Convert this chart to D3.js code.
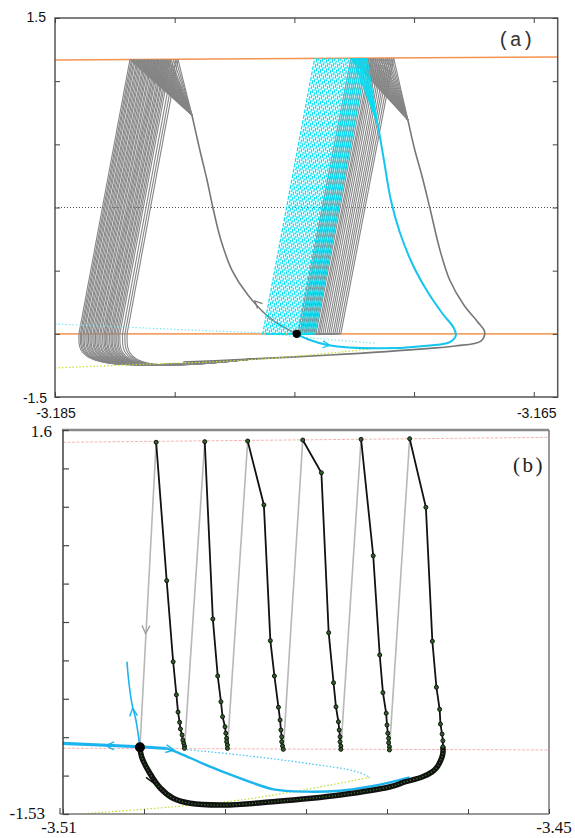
<!DOCTYPE html>
<html lang="en">
<head>
<meta charset="UTF-8">
<title>Trajectories (a) and (b)</title>
<script src="https://cdn.jsdelivr.net/npm/d3@7"></script>
<style>
    body { margin: 0; background: #fff; }
    svg { display: block; }
    .lab-a { font-family: "Liberation Sans", Arial, sans-serif; font-size: 14px; fill: #111; }
    .lab-b { font-family: "Liberation Serif", "Times New Roman", serif; font-size: 17px; fill: #111; }
</style>
</head>
<body>
<script>
    // ---------------- panel (a) ----------------
    var aTicksX = [-3.185, -3.18, -3.175, -3.17, -3.165];
    var aTicksY = [-1.5, -1, -0.5, 0, 0.5, 1, 1.5];
    var aDot = [-3.1749, -1.0];
    var aOrangeLow = [[-3.185, -1.0], [-3.164, -1.0]];
    var aOrangeHigh = [[-3.185, 1.168], [-3.164, 1.191]];
    var aZeroLine = [[-3.185, 0], [-3.164, 0]];
    var aLeftTopY = 1.17;
    var aRightTopY = 1.18;

    // gray band on the left: foot on y=-1, head on the upper orange line
    var aLeftBandBottom = [-3.18400, -3.18394, -3.18389, -3.18383, -3.18378, -3.18371, -3.18366, -3.18360, -3.18354, -3.18349, -3.18342, -3.18337, -3.18331, -3.18325, -3.18320, -3.18313, -3.18308, -3.18301, -3.18295, -3.18290, -3.18284, -3.18279, -3.18272, -3.18266, -3.18261, -3.18254, -3.18249, -3.18242, -3.18236, -3.18229, -3.18218, -3.18208, -3.18199];
    var aLeftBandTop = [-3.18187, -3.18181, -3.18176, -3.18170, -3.18165, -3.18158, -3.18153, -3.18147, -3.18141, -3.18136, -3.18129, -3.18124, -3.18118, -3.18112, -3.18107, -3.18100, -3.18095, -3.18088, -3.18082, -3.18077, -3.18071, -3.18066, -3.18059, -3.18053, -3.18048, -3.18041, -3.18036, -3.18029, -3.18023, -3.18016, -3.18005, -3.17995, -3.17986];
    var aLeftMerge = [-3.17928, 0.732];
    var aHookFloor = -1.30;
    var aHookMerge = [-3.17657, -1.197];
    var aLeftCurve = [[-3.17928, 0.732], [-3.17895, 0.455], [-3.17865, 0.218], [-3.17840, -0.004], [-3.17807, -0.257], [-3.17761, -0.495], [-3.17694, -0.693], [-3.17602, -0.875], [-3.17492, -1.0]];

    // gray band on the right
    var aRightBandBottom = [-3.17485, -3.17477, -3.17469, -3.17460, -3.17452, -3.17444, -3.17435, -3.17427, -3.17419, -3.17410, -3.17402, -3.17396, -3.17389, -3.17381, -3.17373, -3.17364, -3.17356, -3.17348, -3.17339, -3.17331, -3.17323, -3.17314, -3.17306];
    var aRightBandTop = [-3.17264, -3.17256, -3.17248, -3.17239, -3.17231, -3.17223, -3.17214, -3.17206, -3.17198, -3.17189, -3.17181, -3.17175, -3.17168, -3.17160, -3.17152, -3.17143, -3.17135, -3.17127, -3.17118, -3.17110, -3.17102, -3.17093, -3.17085];
    var aRightMerge = [-3.17026, 0.693];
    var aRightCurve = [[-3.17026, 0.693], [-3.16997, 0.455], [-3.16968, 0.257], [-3.16934, -0.004], [-3.16892, -0.336], [-3.16851, -0.574], [-3.16792, -0.772], [-3.16734, -0.906], [-3.16705, -0.985], [-3.16721, -1.057], [-3.16830, -1.096], [-3.16934, -1.115], [-3.17352, -1.168], [-3.17769, -1.207], [-3.17964, -1.223]];

    // cyan band (dashed on the left, solid on the right) and cyan orbit
    var aCyanBandBottom = [-3.17632, -3.17623, -3.17615, -3.17606, -3.17598, -3.17590, -3.17581, -3.17573, -3.17565, -3.17556, -3.17548, -3.17540, -3.17531, -3.17523, -3.17515, -3.17506, -3.17498, -3.17490, -3.17481, -3.17473, -3.17465, -3.17456, -3.17448, -3.17440, -3.17431, -3.17423, -3.17414];
    var aCyanBandTop = [-3.17415, -3.17406, -3.17398, -3.17389, -3.17381, -3.17373, -3.17364, -3.17356, -3.17348, -3.17339, -3.17331, -3.17323, -3.17314, -3.17306, -3.17298, -3.17289, -3.17281, -3.17273, -3.17264, -3.17256, -3.17248, -3.17239, -3.17231, -3.17223, -3.17214, -3.17206, -3.17197];
    var aCyanSolidFrom = 19;
    var aCyanMerge = [-3.17151, 0.653];
    var aCyanCurve = [[-3.17151, 0.653], [-3.17126, 0.376], [-3.17097, 0.059], [-3.17060, -0.194], [-3.17005, -0.455], [-3.16943, -0.669], [-3.16880, -0.843], [-3.16834, -0.954], [-3.16826, -1.017], [-3.16851, -1.065], [-3.16934, -1.092], [-3.17157, -1.115], [-3.17362, -1.088], [-3.17435, -1.049], [-3.17492, -1.0]];

    var aCyanDotted = [[-3.185, -0.922], [-3.17769, -0.983], [-3.17632, -0.993], [-3.17491, -1.023], [-3.17157, -1.075]];
    var aYellowDotted = [[-3.185, -1.270], [-3.18103, -1.239], [-3.17769, -1.215], [-3.17477, -1.175], [-3.17157, -1.115]];

    var aArrows = [
        {tip: [-3.17665, -0.740], from: [-3.17627, -0.811], color: '#7a7a7a'},
        {tip: [-3.17352, -1.090], from: [-3.17394, -1.080], color: '#12c8ee'}
    ];

    // ---------------- panel (b) ----------------
    var bTicksX = [-3.51, -3.50, -3.49, -3.48, -3.47, -3.46, -3.45];
    var bTicksY = [-1.53, -1.217, -0.904, -0.591, -0.278, 0.035, 0.348, 0.661, 0.974, 1.287, 1.6];
    var bDot = [-3.5005, -0.986];
    var bPinkHigh = [[-3.51, 1.500], [-3.45, 1.540]];
    var bPinkLow = [[-3.51, -0.994], [-3.45, -1.008]];

    var bTooth1 = [[-3.4985, 1.500], [-3.4972, 0.372], [-3.4964, -0.289], [-3.4960, -0.558], [-3.4958, -0.699], [-3.4956, -0.783], [-3.4955, -0.837], [-3.4953, -0.886], [-3.4952, -0.927], [-3.4951, -0.954], [-3.4950, -0.976], [-3.4950, -0.995]];
    var bTooth2 = [[-3.4925, 1.505], [-3.4915, 0.059], [-3.4909, -0.405], [-3.4905, -0.615], [-3.4903, -0.737], [-3.4900, -0.819], [-3.4899, -0.872], [-3.4898, -0.913], [-3.4898, -0.941], [-3.4897, -0.968], [-3.4897, -0.995]];
    var bTooth3 = [[-3.4872, 1.510], [-3.4852, 0.989], [-3.4844, -0.117], [-3.4839, -0.405], [-3.4834, -0.660], [-3.4832, -0.764], [-3.4831, -0.845], [-3.4830, -0.900], [-3.4830, -0.941], [-3.4829, -0.976], [-3.4828, -1.003]];
    var bTooth4 = [[-3.4804, 1.518], [-3.4781, 1.252], [-3.4772, -0.052], [-3.4766, -0.460], [-3.4763, -0.656], [-3.4760, -0.778], [-3.4759, -0.845], [-3.4758, -0.900], [-3.4758, -0.941], [-3.4757, -0.976], [-3.4757, -1.003]];
    var bTooth5 = [[-3.4732, 1.524], [-3.4717, 0.575], [-3.4709, -0.234], [-3.4705, -0.541], [-3.4701, -0.709], [-3.4700, -0.805], [-3.4699, -0.872], [-3.4698, -0.913], [-3.4698, -0.949], [-3.4697, -0.982], [-3.4697, -1.008]];
    var bTooth6 = [[-3.4672, 1.529], [-3.4652, 0.970], [-3.4644, -0.122], [-3.4639, -0.497], [-3.4635, -0.677], [-3.4634, -0.797], [-3.4632, -0.878], [-3.4631, -0.933], [-3.4631, -0.982]];
    var bLoop = [[-3.4631, -0.982], [-3.4631, -1.033], [-3.4633, -1.082], [-3.4638, -1.145], [-3.4644, -1.185], [-3.4656, -1.226], [-3.4678, -1.269], [-3.4696, -1.308], [-3.4758, -1.375], [-3.4841, -1.430], [-3.4902, -1.457], [-3.4943, -1.443], [-3.4964, -1.402], [-3.4980, -1.318], [-3.4993, -1.196], [-3.5003, -1.063], [-3.5005, -0.986]];

    var bCyanAxis = [[-3.51, -0.954], [-3.5005, -0.982], [-3.4972, -0.996]];
    var bCyanCurve = [[-3.4972, -0.996], [-3.4956, -1.035], [-3.4923, -1.131], [-3.4881, -1.239], [-3.4840, -1.329], [-3.4799, -1.348], [-3.4758, -1.340], [-3.4717, -1.302], [-3.4672, -1.231]];
    var bCyanUp = [[-3.5005, -0.986], [-3.5010, -0.764], [-3.5015, -0.628], [-3.5019, -0.438], [-3.5021, -0.289]];
    var bCyanDotted = [[-3.4951, -1.003], [-3.4881, -1.049], [-3.4799, -1.117], [-3.4737, -1.185], [-3.4721, -1.231]];
    var bYellowDotted = [[-3.4721, -1.231], [-3.4799, -1.329], [-3.4881, -1.416], [-3.4964, -1.471], [-3.5077, -1.530]];

    var bArrows = [
        {tip: [-3.4998, -0.06], from: [-3.4997, 0.10], color: '#a0a0a0'},
        {tip: [-3.49886, -1.275], from: [-3.49963, -1.177], color: '#111'},
        {tip: [-3.5047, -0.972], from: [-3.5032, -0.976], color: '#1ab4ee'},
        {tip: [-3.4963, -1.008], from: [-3.4978, -0.992], color: '#1ab4ee'},
        {tip: [-3.5014, -0.666], from: [-3.5012, -0.780], color: '#1ab4ee'}
    ];

    var svg = d3.select('body').append('svg')
                .attr('width', 575)
                .attr('height', 838);

    function arrow(g, sx, sy, a, len, width) {
        var tx = sx(a.tip[0]), ty = sy(a.tip[1]);
        var fx = sx(a.from[0]), fy = sy(a.from[1]);
        var ang = Math.atan2(ty - fy, tx - fx);
        var w = 0.45;
        var p1 = [tx - len * Math.cos(ang - w), ty - len * Math.sin(ang - w)];
        var p2 = [tx - len * Math.cos(ang + w), ty - len * Math.sin(ang + w)];
        g.append('path')
         .attr('d', 'M' + p1 + 'L' + tx + ',' + ty + 'L' + p2)
         .attr('fill', 'none')
         .attr('stroke', a.color)
         .attr('stroke-width', width);
    }

    // ======== panel (a) ========
    var xA = d3.scaleLinear().domain([-3.185, -3.164]).range([55, 557.7]);
    var yA = d3.scaleLinear().domain([-1.5, 1.5]).range([397, 18]);
    var lineA = d3.line().x(function(d){ return xA(d[0]); }).y(function(d){ return yA(d[1]); });
    var smoothA = d3.line().curve(d3.curveCatmullRom.alpha(0.5)).x(function(d){ return xA(d[0]); }).y(function(d){ return yA(d[1]); });
    var basisA = d3.line().curve(d3.curveBasis).x(function(d){ return xA(d[0]); }).y(function(d){ return yA(d[1]); });

    svg.append('clipPath').attr('id', 'clipA')
       .append('rect').attr('x', 55).attr('y', 18).attr('width', 502.7).attr('height', 379);
    var gA = svg.append('g').attr('clip-path', 'url(#clipA)');

    gA.append('path').attr('d', lineA(aZeroLine))
      .attr('stroke', '#555').attr('stroke-width', 1).attr('stroke-dasharray', '1,2').attr('fill', 'none');
    gA.append('path').attr('d', lineA(aOrangeLow))
      .attr('stroke', '#f5a266').attr('stroke-width', 1.6).attr('fill', 'none');
    gA.append('path').attr('d', lineA(aOrangeHigh))
      .attr('stroke', '#f59250').attr('stroke-width', 1.6).attr('fill', 'none');

    var grayA = gA.append('g').attr('fill', 'none').attr('stroke', '#858585').attr('stroke-width', 1.1);

    // left band: foot -> head, head -> curve, foot -> hook along the bottom
    aLeftBandBottom.forEach(function(xb, i) {
        var xt = aLeftBandTop[i];
        grayA.append('path').attr('d', lineA([[xb, -1.0], [xt, aLeftTopY]]));
        grayA.append('path').attr('d', lineA([[xt, aLeftTopY], aLeftMerge]));
        grayA.append('path').attr('d', basisA([[xb, -1.0], [xb, aHookFloor], aHookMerge]));
    });
    grayA.append('path').attr('d', smoothA(aLeftCurve)).attr('stroke-width', 1.6).attr('stroke', '#777');

    // right band
    aRightBandBottom.forEach(function(xb, i) {
        var xt = aRightBandTop[i];
        grayA.append('path').attr('d', lineA([aDot, [xb, -1.0], [xt, aRightTopY]]));
        grayA.append('path').attr('d', lineA([[xt, aRightTopY], aRightMerge]));
    });
    grayA.append('path').attr('d', smoothA(aRightCurve)).attr('stroke-width', 1.6).attr('stroke', '#777');

    gA.append('path').attr('d', smoothA(aYellowDotted))
      .attr('stroke', '#c4e22c').attr('stroke-width', 1.2).attr('stroke-dasharray', '1.5,2').attr('fill', 'none');
    gA.append('path').attr('d', smoothA(aCyanDotted))
      .attr('stroke', '#7ee8f6').attr('stroke-width', 1.2).attr('stroke-dasharray', '1.5,2').attr('fill', 'none');

    var cyanA = gA.append('g').attr('fill', 'none').attr('stroke', '#08dcf2').attr('stroke-width', 1.2);
    aCyanBandBottom.forEach(function(xb, i) {
        var xt = aCyanBandTop[i];
        var p = cyanA.append('path').attr('d', lineA([aDot, [xb, -1.0], [xt, aRightTopY]]));
        if (i < aCyanSolidFrom) p.attr('stroke-dasharray', '4,1.5');
        else cyanA.append('path').attr('d', lineA([[xt, aRightTopY], aCyanMerge]));
    });
    cyanA.append('path').attr('d', smoothA(aCyanCurve)).attr('stroke', '#14c6ee').attr('stroke-width', 2);

    aArrows.forEach(function(a) { arrow(gA, xA, yA, a, 8, 1.3); });

    gA.append('circle').attr('cx', xA(aDot[0])).attr('cy', yA(aDot[1])).attr('r', 4.2).attr('fill', '#000');

    // frame and ticks
    svg.append('rect').attr('x', 55).attr('y', 18).attr('width', 502.7).attr('height', 379)
       .attr('fill', 'none').attr('stroke', '#555').attr('stroke-width', 1.5);
    var tickA = function(axis, tr) {
        svg.append('g').attr('transform', tr)
           .call(axis.tickSize(-5).tickSizeOuter(0).tickFormat(''))
           .call(function(g){ g.select('.domain').remove(); g.selectAll('line').attr('stroke', '#444'); });
    };
    tickA(d3.axisBottom(xA).tickValues(aTicksX), 'translate(0,397)');
    tickA(d3.axisTop(xA).tickValues(aTicksX), 'translate(0,18)');
    tickA(d3.axisLeft(yA).tickValues(aTicksY), 'translate(55,0)');
    tickA(d3.axisRight(yA).tickValues(aTicksY), 'translate(557.7,0)');

    svg.append('text').attr('class', 'lab-a').attr('text-anchor', 'end')
       .attr('x', xA(-3.185) - 9).attr('y', yA(1.5) + 4).text('1.5');
    svg.append('text').attr('class', 'lab-a').attr('text-anchor', 'end')
       .attr('x', xA(-3.185) - 8).attr('y', yA(-1.5) + 6).text('-1.5');
    svg.append('text').attr('class', 'lab-a').attr('text-anchor', 'middle')
       .attr('x', xA(-3.185) + 1).attr('y', 418).text('-3.185');
    svg.append('text').attr('class', 'lab-a').attr('text-anchor', 'middle')
       .attr('x', xA(-3.165) + 3).attr('y', 418).text('-3.165');
    svg.append('text').attr('x', xA(-3.164) - 60).attr('y', yA(1.5) + 28)
       .style('font-family', '"Liberation Mono", "Courier New", monospace')
       .style('font-size', '20px').style('fill', '#333').text('(a)');

    // ======== panel (b) ========
    var xB = d3.scaleLinear().domain([-3.51, -3.45]).range([63, 549]);
    var yB = d3.scaleLinear().domain([-1.53, 1.6]).range([814, 430]);
    var lineB = d3.line().x(function(d){ return xB(d[0]); }).y(function(d){ return yB(d[1]); });
    var smoothB = d3.line().curve(d3.curveCatmullRom.alpha(0.5)).x(function(d){ return xB(d[0]); }).y(function(d){ return yB(d[1]); });

    svg.append('clipPath').attr('id', 'clipB')
       .append('rect').attr('x', 63).attr('y', 430).attr('width', 486).attr('height', 384);
    var gB = svg.append('g').attr('clip-path', 'url(#clipB)');

    [bPinkHigh, bPinkLow].forEach(function(p) {
        gB.append('path').attr('d', lineB(p)).attr('fill', 'none')
          .attr('stroke', '#f6b4b4').attr('stroke-width', 1).attr('stroke-dasharray', '3,1.5');
    });

    gB.append('path').attr('d', smoothB(bYellowDotted)).attr('fill', 'none')
      .attr('stroke', '#b8e02a').attr('stroke-width', 1.2).attr('stroke-dasharray', '1.5,2');
    gB.append('path').attr('d', smoothB(bCyanDotted)).attr('fill', 'none')
      .attr('stroke', '#3cc4f2').attr('stroke-width', 1.2).attr('stroke-dasharray', '1.5,2');

    var teeth = [bTooth1, bTooth2, bTooth3, bTooth4, bTooth5, bTooth6];

    // light gray jumps: from the end of one tooth to the head of the next
    teeth.forEach(function(t, i) {
        var start = i === 0 ? bDot : teeth[i - 1][teeth[i - 1].length - 1];
        gB.append('path').attr('d', lineB([start, t[0]])).attr('fill', 'none')
          .attr('stroke', '#b8b8b8').attr('stroke-width', 1.6);
    });

    gB.append('path').attr('d', smoothB(bCyanCurve)).attr('fill', 'none')
      .attr('stroke', '#1ab4ee').attr('stroke-width', 2.4);

    // dense part of the orbit: thick black with green marker centres
    gB.append('path').attr('d', smoothB(bLoop)).attr('fill', 'none')
      .attr('stroke', '#111').attr('stroke-width', 5.5);
    gB.append('path').attr('d', smoothB(bLoop)).attr('fill', 'none')
      .attr('stroke', '#3f8a2e').attr('stroke-width', 1.3).attr('stroke-dasharray', '1,2.2');

    teeth.forEach(function(t) {
        gB.append('path').attr('d', lineB(t)).attr('fill', 'none')
          .attr('stroke', '#111').attr('stroke-width', 1.8);
        gB.selectAll(null).data(t).enter().append('circle')
          .attr('cx', function(d){ return xB(d[0]); })
          .attr('cy', function(d){ return yB(d[1]); })
          .attr('r', 2)
          .attr('fill', '#2f6326')
          .attr('stroke', '#111')
          .attr('stroke-width', 1);
    });

    gB.append('path').attr('d', lineB(bCyanAxis)).attr('fill', 'none')
      .attr('stroke', '#1ab4ee').attr('stroke-width', 3.2);
    gB.append('path').attr('d', smoothB(bCyanUp)).attr('fill', 'none')
      .attr('stroke', '#1ab4ee').attr('stroke-width', 1.6);

    bArrows.forEach(function(a) { arrow(gB, xB, yB, a, 9, 1.4); });

    gB.append('circle').attr('cx', xB(bDot[0])).attr('cy', yB(bDot[1])).attr('r', 5).attr('fill', '#000');

    // frame
    svg.append('line').attr('x1', 62).attr('x2', 549).attr('y1', 430).attr('y2', 430)
       .attr('stroke', '#8a8a8a').attr('stroke-width', 2.5);
    svg.append('line').attr('x1', 549).attr('x2', 549).attr('y1', 430).attr('y2', 814)
       .attr('stroke', '#777').attr('stroke-width', 1.5);
    svg.append('line').attr('x1', 63).attr('x2', 549).attr('y1', 814).attr('y2', 814)
       .attr('stroke', '#777').attr('stroke-width', 1.6);
    svg.append('line').attr('x1', 63).attr('x2', 63).attr('y1', 430).attr('y2', 814)
       .attr('stroke', '#222').attr('stroke-width', 1.3);
    svg.append('path').attr('d', 'M' + (xB(-3.51) - 3) + ',' + (yB(-1.53) - 6) + 'V' + yB(-1.53) + 'H' + xB(-3.51))
       .attr('fill', 'none').attr('stroke', '#333').attr('stroke-width', 1);

    svg.append('g').attr('transform', 'translate(63,0)')
       .call(d3.axisLeft(yB).tickValues(bTicksY).tickSize(-6).tickSizeOuter(0).tickFormat(''))
       .call(function(g){ g.select('.domain').remove(); g.selectAll('line').attr('stroke', '#444').attr('stroke-width', 1.2); });
    svg.append('g').attr('transform', 'translate(0,814)')
       .call(d3.axisBottom(xB).tickValues(bTicksX).tickSize(-5).tickSizeOuter(0).tickFormat(''))
       .call(function(g){ g.select('.domain').remove(); g.selectAll('line').attr('stroke', '#444'); });

    svg.append('text').attr('class', 'lab-b').attr('text-anchor', 'end')
       .attr('x', xB(-3.51) - 11).attr('y', yB(1.6) + 7).text('1.6');
    svg.append('text').attr('class', 'lab-b').attr('text-anchor', 'end')
       .attr('x', xB(-3.51) - 18).attr('y', yB(-1.53) + 5).text('-1.53');
    svg.append('text').attr('class', 'lab-b').attr('text-anchor', 'middle')
       .attr('x', xB(-3.51) - 4).attr('y', 833).text('-3.51');
    svg.append('text').attr('class', 'lab-b').attr('text-anchor', 'middle')
       .attr('x', xB(-3.45) + 5).attr('y', 833).text('-3.45');
    svg.append('text').attr('x', xB(-3.45) - 36).attr('y', yB(1.6) + 42)
       .style('font-family', '"Liberation Serif", "Times New Roman", serif')
       .style('font-size', '21px').style('letter-spacing', '2.5px').style('fill', '#222').text('(b)');
</script>
</body>
</html>
